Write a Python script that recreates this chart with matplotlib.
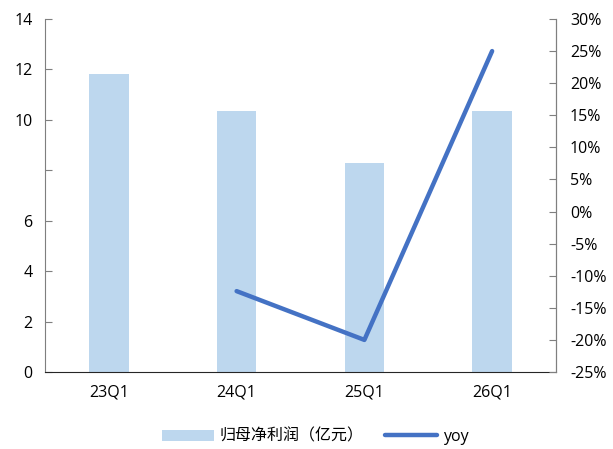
import matplotlib.pyplot as plt
import numpy as np
from matplotlib.ticker import FuncFormatter

plt.rcParams['font.family'] = ['Open Sans', 'Noto Sans CJK SC', 'DejaVu Sans']
plt.rcParams['axes.unicode_minus'] = False

# 季度数据
quarters = ['23Q1', '24Q1', '25Q1', '26Q1']
profit = [11.83, 10.36, 8.29, 10.36]          # 归母净利润（亿元）
yoy = [None, -12.4, -20.0, 25.0]               # 同比 %

left_ticks = [0, 2, 4, 6, 8, 10, 12, 14]
left_labels = ['0', '2', '4', '6', '', '10', '12', '14']

fig = plt.figure(figsize=(6.13, 4.49), dpi=100)
ax = fig.add_axes([0.0734, 0.1715, 0.8336, 0.7862])
x = np.arange(len(quarters)) + 0.5

bar_color = '#BDD7EE'
line_color = '#4472C4'

bars = ax.bar(x, profit, width=0.31, color=bar_color, label='归母净利润（亿元）', zorder=2)
ax.set_xlim(0, 4)
ax.set_ylim(0, 14)
ax.set_yticks(left_ticks)
ax.set_yticklabels(left_labels)
ax.set_xticks(x)
ax.set_xticklabels(quarters)
ax.tick_params(axis='y', direction='in', length=5, color='#7F7F7F', labelsize=11.5, pad=9)
ax.tick_params(axis='x', length=0, labelsize=11.5, pad=9)

ax.spines['top'].set_visible(False)
ax.spines['left'].set_color('#7F7F7F')
ax.spines['right'].set_color('#7F7F7F')
ax.spines['bottom'].set_color('#262626')

# 同比折线（右轴）
ax2 = ax.twinx()
xs = [xi for xi, v in zip(x, yoy) if v is not None]
ys = [v for v in yoy if v is not None]
line, = ax2.plot(xs, ys, color=line_color, linewidth=3.2, solid_capstyle='round', label='yoy', zorder=3)
ax2.set_ylim(-25, 30)
ax2.set_yticks(np.arange(-25, 31, 5))
ax2.yaxis.set_major_formatter(FuncFormatter(lambda v, p: f'{int(round(v))}%'))
ax2.tick_params(axis='y', direction='in', length=5, color='#7F7F7F', labelsize=11.5, pad=10)
for s in ['top', 'left', 'bottom']:
    ax2.spines[s].set_visible(False)
ax2.spines['right'].set_color('#7F7F7F')

fig.legend([bars, line], ['归母净利润（亿元）', 'yoy'], loc='center', bbox_to_anchor=(0.514, 0.027),
           ncol=2, frameon=False, fontsize=11.5, handlelength=3.3, columnspacing=1.3,
           handletextpad=0.35)

fig.savefig('out.png', dpi=100)
